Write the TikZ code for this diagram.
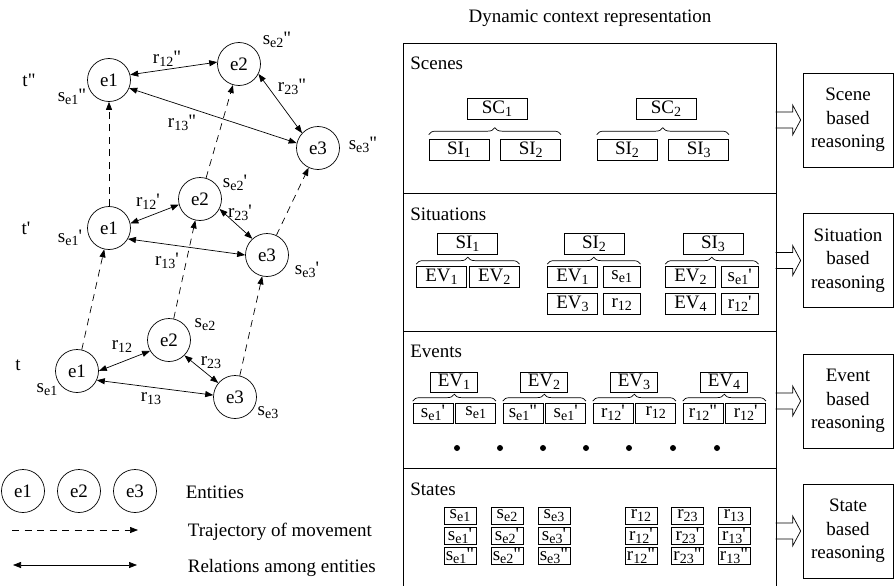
\documentclass[tikz,border=0pt]{standalone}
\usepackage{fontspec}
\setmainfont{LiberationSerif}[Extension=.ttf,UprightFont=*-Regular,BoldFont=*-Bold,ItalicFont=*-Italic]
\usetikzlibrary{positioning,arrows.meta,decorations.pathreplacing}

\newcommand{\ix}[1]{\raisebox{-3pt}{\fontsize{14}{14}\selectfont #1}}
\newcommand{\sta}[2]{s\ix{#1}#2}
\newcommand{\rla}[2]{r\ix{#1}#2}
\newcommand{\onep}{\textquotesingle}
\newcommand{\twop}{\textquotedbl}

\begin{document}
\begin{tikzpicture}[x=1pt,y=-1pt,line width=0.7pt,>={Triangle[length=8pt,width=6pt]},
  every node/.style={font=\fontsize{19}{23.5}\selectfont,inner sep=0.5pt},
  ent/.style={circle,draw,minimum size=43pt,inner sep=0pt},
  traj/.style={->,dash pattern=on 7pt off 5.5pt},
  relarrow/.style={<->},
  bx/.style={draw,inner sep=0pt,minimum width=60pt,minimum height=21pt},
  evbx/.style={bx,minimum width=50pt},
  smbx/.style={bx,minimum width=37pt},
  evhd/.style={bx,minimum width=47pt,minimum height=20pt},
  evch/.style={bx,minimum width=40pt,minimum height=20pt},
  stbx/.style={bx,minimum width=32pt,minimum height=17pt},
  brc/.style={decorate,decoration={brace,amplitude=7pt}},
  rsn/.style={draw,align=center,minimum width=90pt,minimum height=94pt,inner sep=0pt}]
\useasboundingbox (0,0) rectangle (894,586);

% entities over time
\node[ent] (a1) at (77,371) {e1};
\node[ent] (a2) at (169,340) {e2};
\node[ent] (a3) at (235,397) {e3};
\node[ent] (b1) at (109,228) {e1};
\node[ent] (b2) at (200,199) {e2};
\node[ent] (b3) at (267,255) {e3};
\node[ent] (c1) at (109,80) {e1};
\node[ent] (c2) at (239,64) {e2};
\node[ent] (c3) at (318,148) {e3};
\foreach \p/\q in {a1/b1,b1/c1,a2/b2,b2/c2,a3/b3,b3/c3}{\draw[traj] (\p) -- (\q);}
\draw[relarrow] (a1.0) -- (a2.210);
\draw[relarrow] (a2.315) -- (a3.140);
\draw[relarrow] (a1.335) -- (a3.175);
\draw[relarrow] (b1.12) -- (b2.195);
\draw[relarrow] (b2.333) -- (b3.132);
\draw[relarrow] (b1.330) -- (b3.180);
\draw[relarrow] (c1.14) -- (c2.175);
\draw[relarrow] (c2.333) -- (c3.137);
\draw[relarrow] (c1.338) -- (c3.167);

\node (lt2) at (29,80) {t\twop};
\node (lt1) at (26,228) {t\onep};
\node (lt0) at (18,365) {t};
\node (ls1c) at (72,97) {\sta{e1}{\twop}};
\node (ls2c) at (277,40) {\sta{e2}{\twop}};
\node (ls3c) at (363,145) {\sta{e3}{\twop}};
\node (ls1b) at (70,238) {\sta{e1}{\onep}};
\node (ls2b) at (235,183) {\sta{e2}{\onep}};
\node (ls3b) at (307,270) {\sta{e3}{\onep}};
\node (ls1a) at (47,390) {\sta{e1}{}};
\node (ls2a) at (205,325) {\sta{e2}{}};
\node (ls3a) at (268,413) {\sta{e3}{}};
\node (lr12c) at (167,59) {\rla{12}{\twop}};
\node (lr23c) at (292,87) {\rla{23}{\twop}};
\node (lr13c) at (182,123) {\rla{13}{\twop}};
\node (lr12b) at (148,202) {\rla{12}{\onep}};
\node (lr23b) at (240,213) {\rla{23}{\onep}};
\node (lr13b) at (167,261) {\rla{13}{\onep}};
\node (lr12a) at (122,347) {\rla{12}{}};
\node (lr23a) at (211,363) {\rla{23}{}};
\node (lr13a) at (151,399) {\rla{13}{}};

% legend
\node[ent] (le1) at (23,491) {e1};
\node[ent] (le2) at (79,491) {e2};
\node[ent] (le3) at (135,491) {e3};
\node[anchor=base west] (lgent) at (185,498) {Entities};
\coordinate (tr0) at (12,530); \coordinate (tr1) at (138,530);
\draw[traj] (tr0) -- (tr1);
\node[anchor=base west] (lgtraj) at (187,536) {Trajectory of movement};
\coordinate (rl0) at (13,565); \coordinate (rl1) at (137,565);
\draw[relarrow] (rl0) -- (rl1);
\node[anchor=base west] (lgrel) at (187,572) {Relations among entities};

% dynamic context representation
\node[anchor=base] (ttl) at (590,23) {Dynamic context representation};
\node[draw,inner sep=0pt,anchor=north west,minimum width=373pt,minimum height=560pt] (frame) at (403,43) {};
\foreach \y in {193,331,468.5}{\draw (403,\y) -- (776,\y);}
\node[anchor=base west] (lsc) at (409.5,70) {Scenes};
\node[anchor=base west] (lsi) at (409.5,220) {Situations};
\node[anchor=base west] (lev) at (409.5,357) {Events};
\node[anchor=base west] (lst) at (409.5,495) {States};

% scenes
\node[bx] (sc1) at (497,108.5) {SC\ix{1}};
\node[bx] (sc1a) at (459,149.5) {SI\ix{1}};
\node[bx,right=11pt of sc1a] (sc1b) {SI\ix{2}};
\node[bx] (sc2) at (666,108.5) {SC\ix{2}};
\node[bx] (sc2a) at (627,149.5) {SI\ix{2}};
\node[bx,right=11pt of sc2a] (sc2b) {SI\ix{3}};
\draw[brc] ([yshift=4pt]sc1a.north west) -- ([yshift=4pt]sc1b.north east);
\draw[brc] ([yshift=4pt]sc2a.north west) -- ([yshift=4pt]sc2b.north east);

% situations
\node[bx] (si1h) at (467.5,243.5) {SI\ix{1}};
\node[evbx] (si1a) at (441.5,276.5) {EV\ix{1}};
\node[evbx,right=2pt of si1a] (si1b) {EV\ix{2}};
\node[bx] (si2h) at (594,243.5) {SI\ix{2}};
\node[evbx] (si2a) at (572.5,276.5) {EV\ix{1}};
\node[smbx,right=5pt of si2a] (si2b) {\sta{e1}{}};
\node[evbx,below=6pt of si2a] (si2c) {EV\ix{3}};
\node[smbx,below=6pt of si2b] (si2d) {\rla{12}{}};
\node[bx] (si3h) at (713,243.5) {SI\ix{3}};
\node[evbx] (si3a) at (690.5,276.5) {EV\ix{2}};
\node[smbx,right=5pt of si3a] (si3b) {\sta{e1}{\onep}};
\node[evbx,below=6pt of si3a] (si3c) {EV\ix{4}};
\node[smbx,below=6pt of si3b] (si3d) {\rla{12}{\onep}};
\draw[brc] ([yshift=1.5pt]si1a.north west) -- ([yshift=1.5pt]si1b.north east);
\draw[brc] ([yshift=1.5pt]si2a.north west) -- ([yshift=1.5pt]si2b.north east);
\draw[brc] ([yshift=1.5pt]si3a.north west) -- ([yshift=1.5pt]si3b.north east);

% events
\foreach \g/\x/\ca/\cb in {1/454/{\sta{e1}{\onep}}/{\sta{e1}{}},2/544/{\sta{e1}{\twop}}/{\sta{e1}{\onep}},
    3/634/{\rla{12}{\onep}}/{\rla{12}{}},4/724/{\rla{12}{\twop}}/{\rla{12}{\onep}}}{
  \node[evhd] (evh\g) at (\x,382) {EV\ix{\g}};
  \node[evch] (eva\g) at (\x-21,413) {\ca};
  \node[evch,right=2pt of eva\g] (evb\g) {\cb};
  \draw[brc] ([yshift=1.5pt]eva\g.north west) -- ([yshift=1.5pt]evb\g.north east);
}
\foreach \x in {457,500,543,586,629,673,717}{\fill (\x,448) circle[radius=3pt];}

% states
\foreach \k/\x in {1/460,2/507,3/554}{
  \node[stbx] (se\k-0) at (\x,515.5) {\sta{e\k}{}};
  \node[stbx,below=2.5pt of se\k-0] (se\k-1) {\sta{e\k}{\onep}};
  \node[stbx,below=2.5pt of se\k-1] (se\k-2) {\sta{e\k}{\twop}};
}
\foreach \k/\x in {12/641,23/687.5,13/734}{
  \node[stbx] (re\k-0) at (\x,515.5) {\rla{\k}{}};
  \node[stbx,below=2.5pt of re\k-0] (re\k-1) {\rla{\k}{\onep}};
  \node[stbx,below=2.5pt of re\k-1] (re\k-2) {\rla{\k}{\twop}};
}

% reasoning
\node[rsn] (rsc) at (848,120) {Scene\\based\\reasoning};
\node[rsn] (rsi) at (848,260.5) {Situation\\based\\reasoning};
\node[rsn] (rev) at (848,401) {Event\\based\\reasoning};
\node[rsn] (rst) at (848,531) {State\\based\\reasoning};
\foreach \r in {rsc,rsi,rev,rst}{
  \draw ([xshift=-2pt]\r.west) -- ++(-8,-15) -- ++(0,7) -- ++(-17,0) ++(0,16) -- ++(17,0) -- ++(0,7) -- ([xshift=-2pt]\r.west);
}
\end{tikzpicture}
\end{document}
